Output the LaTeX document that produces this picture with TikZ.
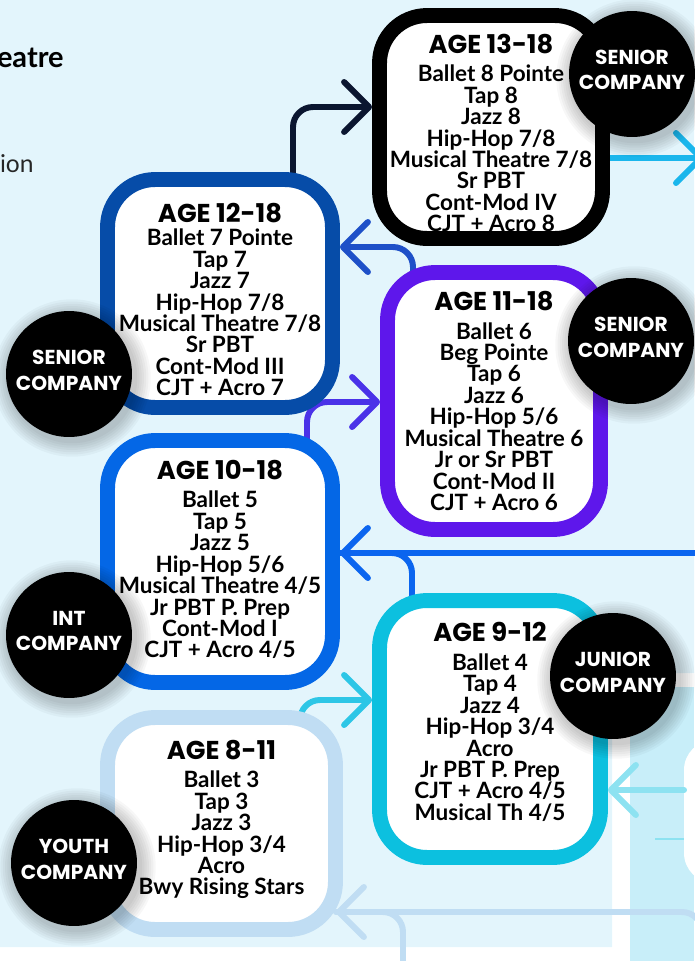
\documentclass[tikz,border=0pt]{standalone}
\usepackage{fontspec}
\setmainfont{Lato}
\newfontfamily\headfont{Poppins}
\usetikzlibrary{
  arrows.meta,  % Straight Barb 箭头
  calc,         % 坐标计算
  backgrounds   % 背景层（连线画在方框下面）
}

% 颜色
\definecolor{bgblue}{HTML}{E3F5FC}
\definecolor{panelcyan}{HTML}{C8EEF9}
\definecolor{navyline}{HTML}{0B1630}
\definecolor{cyanline}{HTML}{1AB6EC}
\definecolor{boxtwelve}{HTML}{064CA8}
\definecolor{bluethree}{HTML}{1E50C8}
\definecolor{boxeleven}{HTML}{5E17EB}
\definecolor{purpleline}{HTML}{4A32E8}
\definecolor{boxten}{HTML}{0467E6}
\definecolor{blueline}{HTML}{0B65EF}
\definecolor{boxnine}{HTML}{0CC0DF}
\definecolor{tealline}{HTML}{2DC6E6}
\definecolor{paleline}{HTML}{8DE2F1}
\definecolor{boxeight}{HTML}{C0DDF3}

\newcommand{\agetitle}[1]{{\headfont\fontsize{14.7}{14.7}\selectfont #1}}

\tikzset{
  agebox/.style={draw=#1, fill=white, line width=8.5pt, rounded corners=0.95cm, inner sep=0pt},
  agetext/.style={align=center, inner sep=0pt, font=\bfseries\fontsize{12.8}{12.2}\selectfont},
  company/.style={circle, fill=black, minimum size=2.52cm, inner sep=0pt},
  comptext/.style={text=white, align=center, inner sep=0pt,
    font=\headfont\bfseries\fontsize{11.5}{14.7}\selectfont},
  connline/.style={draw=#1, line width=3.4pt, rounded corners=0.4cm, line cap=round},
  conn/.style={connline=#1, -{Straight Barb[length=0.5cm, width=1cm, round]}}
}

\begin{document}
\begin{tikzpicture}[x=0.02cm, y=-0.02cm]
  \useasboundingbox (0,0) rectangle (694,961);

  % ===== 年龄方框 =====
  % AGE 13-18（黑框）
  \node[agebox=black, minimum width=4.46cm, minimum height=4.46cm] (b13) at (491,127) {};
  \node[agetext] (b13t) at ([yshift=-3.4pt]b13.center)
    {\agetitle{AGE 13-18}\\[4pt] Ballet 8 Pointe\\ Tap 8\\ Jazz 8\\ Hip-Hop 7/8\\
     Musical Theatre 7/8\\ Sr PBT\\ Cont-Mod IV\\ CJT + Acro 8};

  % AGE 12-18（深蓝框）
  \node[agebox=boxtwelve, minimum width=4.5cm, minimum height=4.56cm] (b12) at (220,293.5) {};
  \node[agetext] (b12t) at ([yshift=-3.4pt]b12.center)
    {\agetitle{AGE 12-18}\\[1.2pt] Ballet 7 Pointe\\ Tap 7\\ Jazz 7\\ Hip-Hop 7/8\\
     Musical Theatre 7/8\\ Sr PBT\\ Cont-Mod III\\ CJT + Acro 7};

  % AGE 11-18（紫框）
  \node[agebox=boxeleven, minimum width=4.26cm, minimum height=5.14cm] (b11) at (494,401) {};
  \node[agetext] (b11t) at (b11.center)
    {\agetitle{AGE 11-18}\\[4pt] Ballet 6\\ Beg Pointe\\ Tap 6\\ Jazz 6\\ Hip-Hop 5/6\\
     Musical Theatre 6\\ Jr or Sr PBT\\ Cont-Mod II\\ CJT + Acro 6};

  % AGE 10-18（蓝框）
  \node[agebox=boxten, minimum width=4.5cm, minimum height=4.84cm] (b10) at (220,561.5) {};
  \node[agetext] (b10t) at ([yshift=1.1pt]b10.center)
    {\agetitle{AGE 10-18}\\[4pt] Ballet 5\\ Tap 5\\ Jazz 5\\ Hip-Hop 5/6\\
     Musical Theatre 4/5\\ Jr PBT P. Prep\\ Cont-Mod I\\ CJT + Acro 4/5};

  % AGE 9-12（青框）
  \node[agebox=boxnine, minimum width=4.42cm, minimum height=5.14cm] (b9) at (490,729) {};
  \node[agetext] (b9t) at ([yshift=4pt]b9.center)
    {\agetitle{AGE 9-12}\\[4pt] Ballet 4\\ Tap 4\\ Jazz 4\\ Hip-Hop 3/4\\ Acro\\
     Jr PBT P. Prep\\ CJT + Acro 4/5\\ Musical Th 4/5};

  % AGE 8-11（浅蓝框）
  \node[agebox=boxeight, minimum width=4.56cm, minimum height=4.24cm] (b8) at (221.5,823.5) {};
  \node[agetext] (b8t) at ([yshift=2.3pt]b8.center)
    {\agetitle{AGE 8-11}\\[4pt] Ballet 3\\ Tap 3\\ Jazz 3\\ Hip-Hop 3/4\\ Acro\\
     Bwy Rising Stars};

  % 图外的连线端点
  \coordinate (off2) at (704,158);
  \coordinate (off5) at (704,553);
  \coordinate (w7) at (684,790);
  \coordinate (off8) at (702,985);
  \coordinate (off8b) at (403,985);

  \begin{scope}[on background layer]
    % ----- 底色 -----
    \fill[bgblue] (0,0) -- (694,0) -- (694,673) -- (612,673) -- (612,947) -- (0,947) -- cycle;
    \fill[panelcyan] (630,687) rectangle (694,961);
    \fill[white, rounded corners=0.6cm] (684,740) rectangle (730,883);
    \draw[paleline, line width=1pt] (655,839) -- (684,839);

    % ----- 连线 -----
    \draw[conn=navyline] (b12.center -| 293,0) |- (b13.west |- 0,107);
    \draw[conn=cyanline] (b13.center |- 0,158) -- (off2);
    \draw[conn=bluethree] (b11.center -| 413,0) |- (b12.east |- 0,247);
    \draw[conn=purpleline] (b10.center -| 307,0) |- (b11.west |- 0,402);
    \draw[conn=blueline] (off5) -- (b10.east |- 0,553);
    \draw[connline=blueline] (b9.center -| 412,0) |- (b10.east |- 0,553);
    \draw[conn=tealline] (b8.center -| 300,0) |- (b9.west |- 0,700);
    \draw[conn=paleline] (w7) -- (b9.east |- 0,790);
    \draw[conn=boxeight] (off8) |- ($(b8.east |- 0,912)+(-7,0)$);
    \draw[connline=boxeight] (off8b) |- ($(b8.east |- 0,912)+(-7,0)$);
  \end{scope}

  % ===== 公司圆标 =====
  \coordinate (p13) at (632,74);
  \coordinate (p12) at (69,374);
  \coordinate (p11) at (631,341);
  \coordinate (p10) at (69,635);
  \coordinate (p9) at (613,676);
  \coordinate (p8) at (74,863);

  % 柔和阴影
  \foreach \p in {p13,p12,p11,p10,p9,p8}{
    \foreach \k in {1,...,7}
      \fill[black, opacity=0.03] ($(\p)+(3,4)$) circle[radius={1.26cm+\k*0.045cm}];
  }

  \node[company] (s13) at (p13) {};
  \node[comptext] (s13t) at ([yshift=2.3pt]s13.center) {SENIOR\\COMPANY};
  \node[company] (s12) at (p12) {};
  \node[comptext] (s12t) at ([yshift=2.3pt]s12.center) {SENIOR\\COMPANY};
  \node[company] (s11) at (p11) {};
  \node[comptext] (s11t) at ([yshift=2.3pt]s11.center) {SENIOR\\COMPANY};
  \node[company] (int10) at (p10) {};
  \node[comptext] (int10t) at ([yshift=2.3pt]int10.center) {INT\\COMPANY};
  \node[company] (jr9) at (p9) {};
  \node[comptext] (jr9t) at ([yshift=2.3pt]jr9.center) {JUNIOR\\COMPANY};
  \node[company] (yt8) at (p8) {};
  \node[comptext] (yt8t) at ([yshift=2.3pt]yt8.center) {YOUTH\\COMPANY};

  % ===== 左上角残留标题 =====
  \node[anchor=base east, inner sep=0pt, font=\bfseries\fontsize{16.5}{16.5}\selectfont] (ttl) at (64,67) {eatre};
  \node[anchor=base east, inner sep=0pt, text=black!85, font=\fontsize{14}{14}\selectfont] (sub) at (34,172) {ion};
\end{tikzpicture}
\end{document}
